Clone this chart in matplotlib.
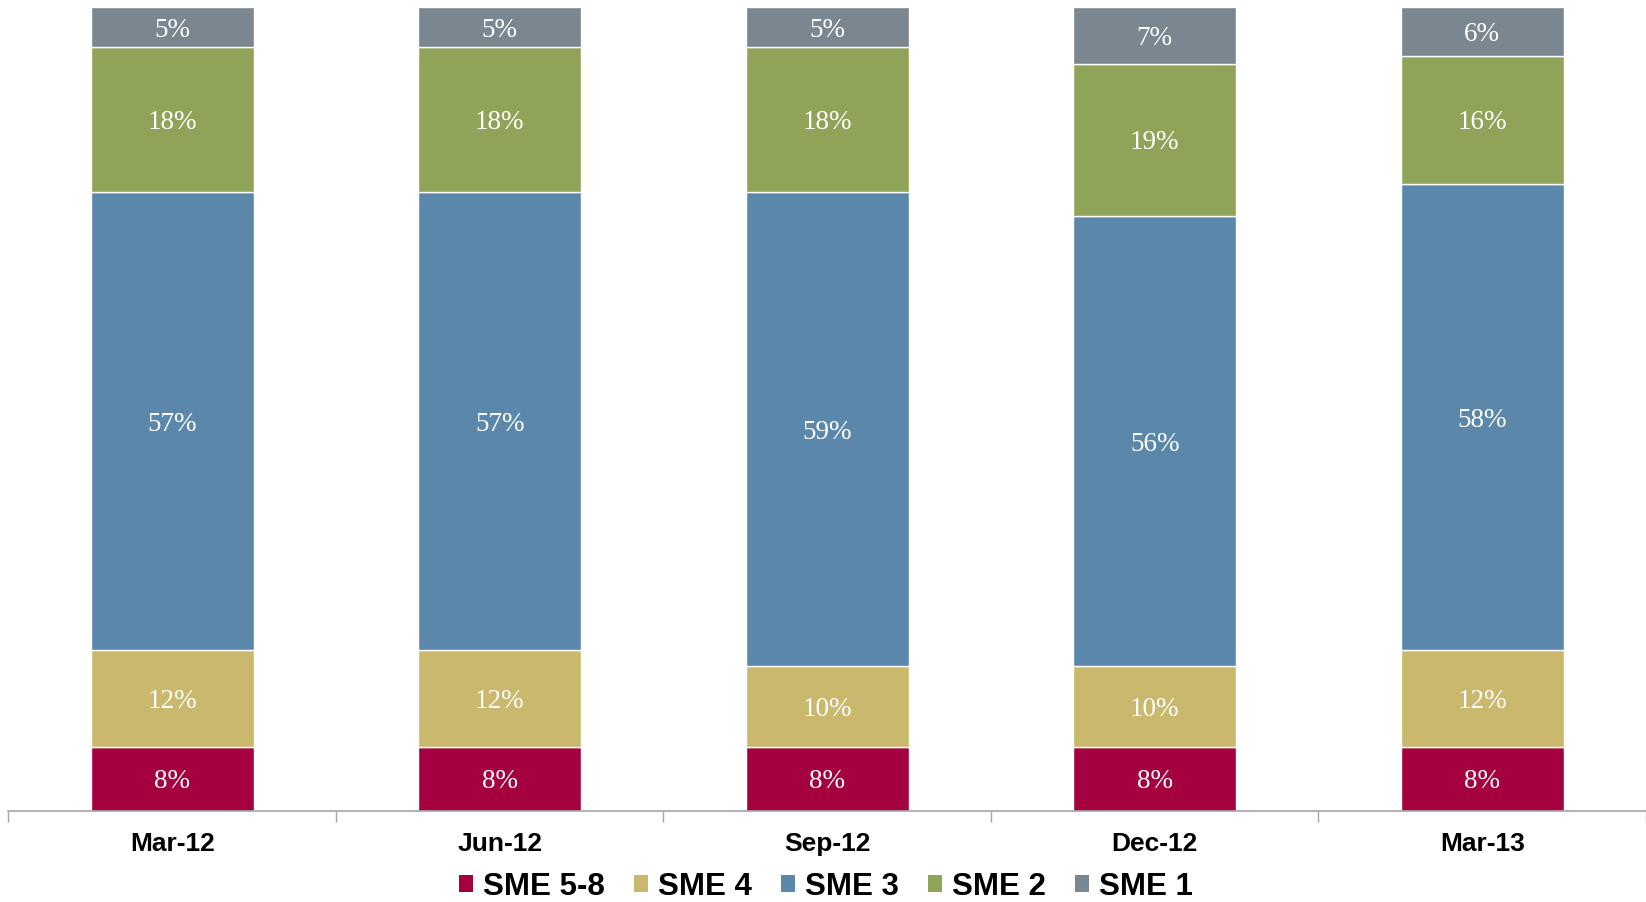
import matplotlib
matplotlib.use("Agg")
import matplotlib.pyplot as plt
from matplotlib.patches import Patch
import numpy as np

categories = ["Mar-12", "Jun-12", "Sep-12", "Dec-12", "Mar-13"]
series_names = ["SME 5-8", "SME 4", "SME 3", "SME 2", "SME 1"]
sme_5_8 = [8, 8, 8, 8, 8]
sme_4 = [12, 12, 10, 10, 12]
sme_3 = [57, 57, 59, 56, 58]
sme_2 = [18, 18, 18, 19, 16]
sme_1 = [5, 5, 5, 7, 6]
series_values = [sme_5_8, sme_4, sme_3, sme_2, sme_1]
colors = ["#A5003F", "#CAB86D", "#5B87AB", "#8FA458", "#7A8690"]

W, H = 1646, 902
fig = plt.figure(figsize=(W / 100, H / 100), dpi=100)
ax = fig.add_axes([8.4 / W, 1 - 811 / H, 1 - 8.4 / W, (811 - 7.3) / H])

x = np.arange(len(categories))
bottom = np.zeros(len(categories))
for name, vals, col in zip(series_names, series_values, colors):
    vals = np.array(vals, dtype=float)
    ax.bar(x, vals, width=0.497, bottom=bottom, color=col,
           edgecolor="white", linewidth=1.0, label=name)
    for xi, b, v in zip(x, bottom, vals):
        ax.text(xi, b + v / 2, f"{v:.0f}%", ha="center", va="center_baseline",
                color="white", fontsize=19.5, family="Liberation Serif")
    bottom += vals

ax.set_xlim(-0.5, len(categories) - 0.5)
ax.set_ylim(0, 100)
ax.set_yticks([])
for s in ["top", "right", "left"]:
    ax.spines[s].set_visible(False)
ax.spines["bottom"].set_color("#A6A6A6")
ax.spines["bottom"].set_linewidth(1.2)

ax.set_xticks(x)
ax.set_xticklabels(categories, fontsize=19, fontweight="bold",
                   family="Liberation Sans")
ax.tick_params(axis="x", which="major", length=0, pad=15)
ax.set_xticks(np.arange(-0.5, len(categories)), minor=True)
ax.tick_params(axis="x", which="minor", length=8, color="#A6A6A6", width=1)

handles = [Patch(facecolor=c, edgecolor="none") for c in colors]
fig.legend(handles, series_names, loc="center", ncol=5,
           bbox_to_anchor=(826 / W, 1 - 887 / H), frameon=False,
           prop={"family": "Liberation Sans", "weight": "bold", "size": 22.5},
           handlelength=0.45, handleheight=0.45, handletextpad=0.3,
           columnspacing=0.95)

fig.savefig("out.png", dpi=100)
